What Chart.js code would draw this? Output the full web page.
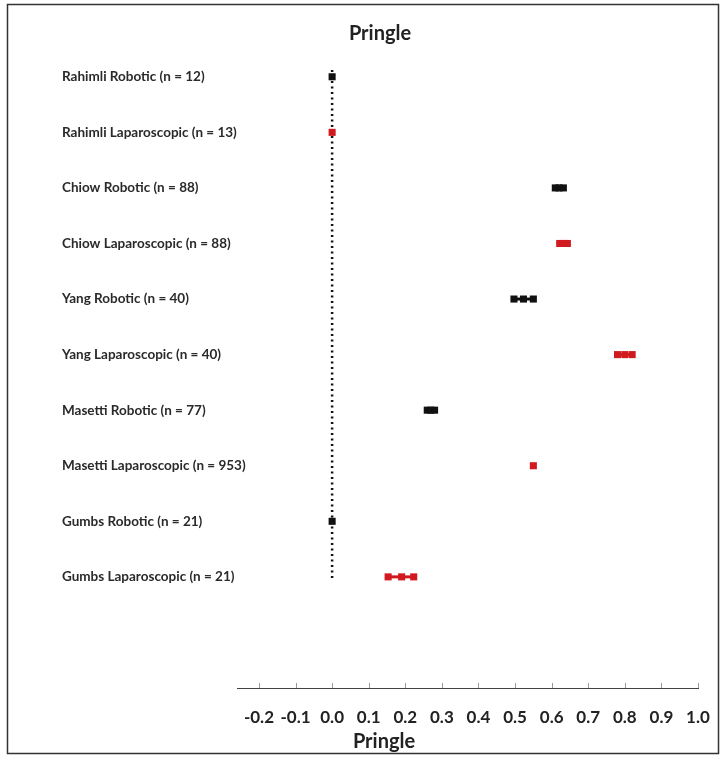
<!DOCTYPE html>
<html>
<head>
<meta charset="utf-8">
<script src="https://cdn.jsdelivr.net/npm/chart.js@4.4.1/dist/chart.umd.min.js"></script>
<style>
  html, body { margin: 0; padding: 0; background: #fff; }
  #wrap { width: 725px; height: 765px; }
</style>
</head>
<body>
<div id="wrap"><canvas id="pringleChart" width="725" height="765"></canvas></div>
<script>
// rows, top to bottom
const categories = [
    'Rahimli Robotic (n = 12)',
    'Rahimli Laparoscopic (n = 13)',
    'Chiow Robotic (n = 88)',
    'Chiow Laparoscopic (n = 88)',
    'Yang Robotic (n = 40)',
    'Yang Laparoscopic (n = 40)',
    'Masetti Robotic (n = 77)',
    'Masetti Laparoscopic (n = 953)',
    'Gumbs Robotic (n = 21)',
    'Gumbs Laparoscopic (n = 21)'
];
const lowerCI   = [0, 0, 0.610, 0.622, 0.497, 0.780, 0.260, 0.550, 0, 0.153];
const estimates = [0, 0, 0.620, 0.632, 0.523, 0.800, 0.270, 0.550, 0, 0.190];
const upperCI   = [0, 0, 0.632, 0.643, 0.550, 0.820, 0.280, 0.550, 0, 0.223];
const isRobotic = [true, false, true, false, true, false, true, false, true, false];

const xTicks = [-0.2, -0.1, 0.0, 0.1, 0.2, 0.3, 0.4, 0.5, 0.6, 0.7, 0.8, 0.9, 1.0];
const xMin = -0.26, xMax = 1.0;
const refLine = [{ x: 0, y: 0.88 }, { x: 0, y: 10.05 }];

const BLACK = '#111111';
const RED = '#d01a1f';
const FONT = 'Lato, "Open Sans", sans-serif';
const Y_AXIS_W = 175;

const datasets = categories.map((name, i) => {
    const y = i + 1;
    const pts = lowerCI[i] === upperCI[i]
        ? [{ x: estimates[i], y }]
        : [{ x: lowerCI[i], y }, { x: estimates[i], y }, { x: upperCI[i], y }];
    const c = isRobotic[i] ? BLACK : RED;
    return {
        label: name,
        data: pts,
        showLine: true,
        borderColor: c,
        backgroundColor: c,
        borderWidth: 3,
        pointStyle: 'rect',
        pointRadius: 5,
        pointBorderWidth: 0,
        order: 0
    };
});

datasets.push({
    label: 'ref',
    data: refLine,
    showLine: true,
    borderColor: BLACK,
    borderWidth: 2.5,
    borderDash: [2, 3.5],
    pointRadius: 0,
    order: 10
});

// white background, outer frame, upward tick marks, bottom axis title
const framePlugin = {
    id: 'frame',
    beforeDraw(chart) {
        const ctx = chart.ctx;
        ctx.save();
        ctx.fillStyle = '#fff';
        ctx.fillRect(0, 0, chart.width, chart.height);
        ctx.strokeStyle = '#333';
        ctx.lineWidth = 1.5;
        ctx.strokeRect(7.5, 4.5, 711, 749);
        ctx.restore();
    },
    afterDraw(chart) {
        const ctx = chart.ctx;
        const area = chart.chartArea;
        const xs = chart.scales.x;
        ctx.save();
        ctx.strokeStyle = '#999';
        ctx.lineWidth = 1;
        xTicks.forEach(v => {
            const px = Math.round(xs.getPixelForValue(v)) + 0.5;
            ctx.beginPath();
            ctx.moveTo(px, area.bottom);
            ctx.lineTo(px, area.bottom - 5);
            ctx.stroke();
        });
        ctx.fillStyle = '#222';
        ctx.font = 'bold 20px ' + FONT;
        ctx.textAlign = 'center';
        ctx.textBaseline = 'middle';
        ctx.fillText('Pringle', area.left + 147, area.bottom + 54);
        ctx.restore();
    }
};

new Chart(document.getElementById('pringleChart').getContext('2d'), {
    type: 'scatter',
    data: { datasets },
    plugins: [framePlugin],
    options: {
        responsive: false,
        animation: false,
        layout: { padding: { left: 62, right: 27, top: 0, bottom: 0 } },
        plugins: {
            legend: { display: false },
            tooltip: { enabled: false },
            title: {
                display: true,
                text: 'Pringle',
                color: '#222',
                font: { family: FONT, size: 20, weight: 'bold' },
                padding: { top: 22, bottom: 3 }
            }
        },
        scales: {
            x: {
                type: 'linear',
                position: 'bottom',
                min: xMin,
                max: xMax,
                afterBuildTicks: (s) => { s.ticks = xTicks.map(v => ({ value: v })); },
                afterFit: (s) => {
                    s.height = 77;
                    s.paddingLeft = 0;
                    s.paddingRight = 0;
                },
                grid: { drawOnChartArea: false, drawTicks: false },
                border: { display: true, color: '#444', width: 1 },
                ticks: {
                    autoSkip: false,
                    maxRotation: 0,
                    padding: 19,
                    color: '#222',
                    font: { family: FONT, size: 17, weight: 'bold' },
                    callback: (v) => v.toFixed(1)
                }
            },
            y: {
                type: 'linear',
                reverse: true,
                min: 0.5,
                max: 12,
                afterBuildTicks: (s) => { s.ticks = categories.map((c, i) => ({ value: i + 1 })); },
                afterFit: (s) => { s.width = Y_AXIS_W; },
                grid: { display: false, drawTicks: false },
                border: { display: false },
                ticks: {
                    autoSkip: false,
                    mirror: true,          // mirrored labels are not clipped to the axis box
                    crossAlign: 'near',
                    padding: -Y_AXIS_W,    // pull them back to the left edge of the axis
                    color: '#2a2a2a',
                    font: { family: FONT, size: 13.5, weight: 'bold' },
                    callback: (v) => categories[v - 1] || ''
                }
            }
        }
    }
});
</script>
</body>
</html>
